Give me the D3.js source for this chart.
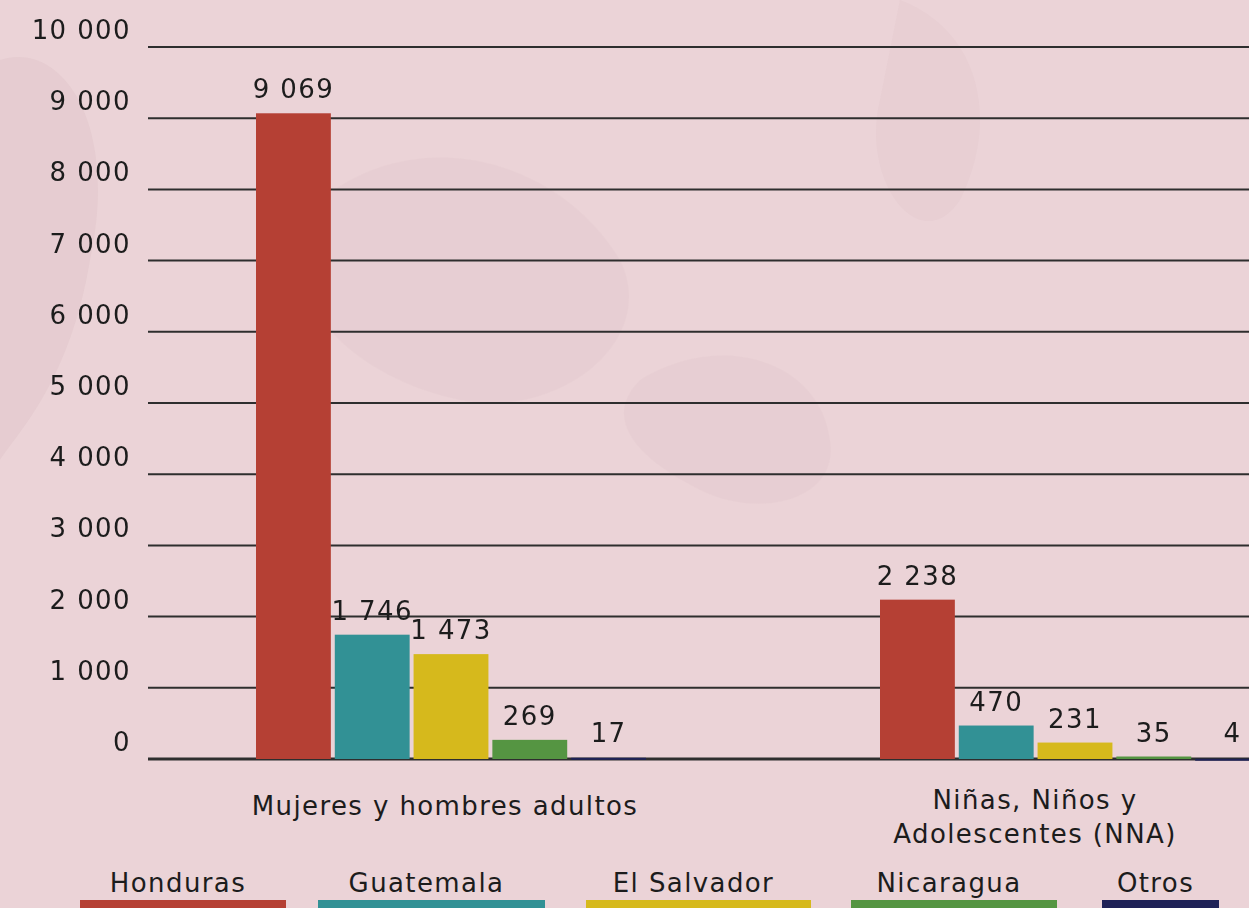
<!DOCTYPE html>
<html>
<head>
<meta charset="utf-8">
<script src="https://cdn.jsdelivr.net/npm/d3@7"></script>
<style>
  html, body { margin: 0; padding: 0; background: #ebd3d7; }
  svg { display: block; }
  text { font-family: "DejaVu Sans", sans-serif; fill: #1c1c1c; letter-spacing: 1.4px; }
</style>
</head>
<body>
<script>
// ---- data ----
const categories = ["Mujeres y hombres adultos", "Niñas, Niños y\nAdolescentes (NNA)"];
const series = ["Honduras", "Guatemala", "El Salvador", "Nicaragua", "Otros"];
const adultos = [9069, 1746, 1473, 269, 17];
const nna = [2238, 470, 231, 35, 4];
const yTicks = [0, 1000, 2000, 3000, 4000, 5000, 6000, 7000, 8000, 9000, 10000];
const colors = ["#b54034", "#329195", "#d6b91c", "#559542", "#1f2257"];

// ---- layout ----
const W = 1249, H = 908;
const gridX0 = 148;
const categoryLabelShift = [-6, -40];
const legendBars = [[80, 286], [318, 545], [586, 811], [851, 1057], [1102, 1219]];

const values = [adultos, nna];
const loc = d3.formatLocale({decimal: ",", thousands: " ", grouping: [3], currency: ["", ""]});
const fmt = loc.format(",d");

const svg = d3.select("body").append("svg").attr("width", W).attr("height", H);
svg.append("rect").attr("width", W).attr("height", H).attr("fill", "#ebd3d7");

// faint decorative background blobs
const deco = svg.append("g").attr("fill", "#dcc0c5").attr("opacity", 0.35);
deco.append("path").attr("d", "M0,60 C60,40 120,120 90,260 C70,380 20,430 0,460 Z");
deco.append("path").attr("d", "M320,200 C420,120 560,160 620,260 C660,340 560,420 460,400 C360,380 260,300 320,200 Z").attr("opacity", 0.5);
deco.append("path").attr("d", "M900,0 C980,30 1000,120 960,200 C920,260 860,180 880,100 Z").attr("opacity", 0.6);
deco.append("path").attr("d", "M640,380 C720,330 820,360 830,440 C840,500 760,520 700,490 C640,460 600,420 640,380 Z").attr("opacity", 0.5);

const y = d3.scaleLinear().domain([0, 10000]).range([759, 47]);

const x0 = d3.scaleBand().domain(categories).range([256, 1270]).paddingInner(0.375).paddingOuter(0);
const x1 = d3.scaleBand().domain(series).range([0, x0.bandwidth()]).paddingInner(0.05);
const color = d3.scaleOrdinal().domain(series).range(colors);

// gridlines
const grid = svg.append("g");
grid.selectAll("line").data(yTicks).join("line")
  .attr("x1", gridX0).attr("x2", W)
  .attr("y1", d => y(d)).attr("y2", d => y(d))
  .attr("stroke", "#2e2e2e")
  .attr("stroke-width", d => d === 0 ? 3 : 2);

// y tick labels
svg.append("g").selectAll("text").data(yTicks).join("text")
  .attr("x", 131).attr("y", d => y(d) - 8)
  .attr("text-anchor", "end")
  .attr("font-size", 26)
  .text(d => fmt(d));

// bars
const groups = svg.append("g").selectAll("g").data(categories).join("g")
  .attr("transform", d => `translate(${x0(d)},0)`);

groups.each(function(cat, ci) {
  const g = d3.select(this);
  const rows = series.map((s, i) => ({s, v: values[ci][i]}));
  g.selectAll("rect").data(rows).join("rect")
    .attr("x", d => x1(d.s))
    .attr("width", x1.bandwidth())
    .attr("y", d => y(d.v))
    .attr("height", d => Math.max(2, y(0) - y(d.v)))
    .attr("fill", d => color(d.s));
  g.selectAll("text.val").data(rows).join("text")
    .attr("class", "val")
    .attr("x", d => x1(d.s) + x1.bandwidth() / 2)
    .attr("y", d => Math.min(y(d.v), y(0) - 2) - 15)
    .attr("text-anchor", "middle")
    .attr("font-size", 26)
    .text(d => fmt(d.v));
});

// category labels
categories.forEach((cat, ci) => {
  const lines = cat.split("\n");
  const cx = x0(cat) + x0.bandwidth() / 2 + categoryLabelShift[ci];
  const t = svg.append("text")
    .attr("text-anchor", "middle")
    .attr("font-size", 26);
  lines.forEach((ln, li) => {
    t.append("tspan").attr("x", cx).attr("y", (lines.length === 1 ? 815 : 809) + li * 34).text(ln);
  });
});

// legend
const leg = svg.append("g");
series.forEach((s, i) => {
  const [a, b] = legendBars[i];
  leg.append("rect").attr("x", a).attr("y", 900).attr("width", b - a).attr("height", 10).attr("fill", color(s));
  leg.append("text").attr("x", (a + b) / 2 - 5).attr("y", 892)
    .attr("text-anchor", "middle").attr("font-size", 26).text(s);
});
</script>
</body>
</html>
